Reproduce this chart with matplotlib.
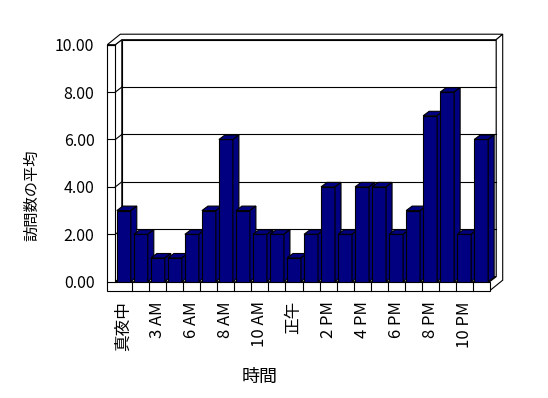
import matplotlib
matplotlib.use('Agg')
import matplotlib.pyplot as plt
from matplotlib.patches import Polygon
import numpy as np

plt.rcParams['font.family'] = ['Noto Sans CJK JP', 'DejaVu Sans']

# ---- data ----
categories = ['真夜中', '1 AM', '3 AM', '5 AM', '6 AM', '7 AM', '8 AM', '9 AM',
              '10 AM', '11 AM', '正午', '1 PM', '2 PM', '3 PM', '4 PM', '5 PM',
              '6 PM', '7 PM', '8 PM', '9 PM', '10 PM', '11 PM']
values = [3, 2, 1, 1, 2, 3, 6, 3, 2, 2, 1, 2, 4, 2, 4, 4, 2, 3, 7, 8, 2, 6]
y_ticks = [0, 2, 4, 6, 8, 10]
y_tick_labels = [f'{v:.2f}' for v in y_ticks]
x_title = '時間'
y_title = '訪問数の平均'

# ---- style ----
BAR_COLOR = '#000080'
LINE = 'black'
LW = 0.8
D1 = (6.5, 5.0)      # depth front plane -> back wall face (px)
D2 = (6.5, 5.5)      # back wall thickness (px)
BD = (6.0, 4.5)      # bar depth (px)
WALL_PX = 8.0        # left wall thickness (px)
FLOOR_PX = 9.0       # floor thickness (px)
W, H = 548, 398

fig = plt.figure(figsize=(W / 100, H / 100), dpi=100)
ax = fig.add_axes([115.3 / W, (H - 281.7) / H, 374.4 / W, 237.0 / H])
n = len(values)
x = np.arange(n)
ax.set_xlim(-0.5, n - 0.5)
ax.set_ylim(0, 10)
for s in ax.spines.values():
    s.set_visible(False)
ax.patch.set_visible(False)


def off(px, py):
    p0 = ax.transData.transform((0, 0))
    q = ax.transData.inverted().transform(p0 + np.array([px, py]))
    return q[0], q[1]


d1 = np.array(off(*D1))
D = np.array(off(D1[0] + D2[0], D1[1] + D2[1]))
bd = np.array(off(*BD))
lw_d, _ = off(WALL_PX, 0)
_, fl_d = off(0, FLOOR_PX)
x0, x1 = -0.5, n - 0.5
ymax = y_ticks[-1]


def poly(pts, z, fc='white'):
    ax.add_patch(Polygon(pts, closed=True, facecolor=fc, edgecolor=LINE,
                         linewidth=LW, zorder=z, clip_on=False,
                         joinstyle='miter'))


P = lambda a, b, d=(0, 0): (a + d[0], b + d[1])

# back wall front face
poly([P(x0, 0, d1), P(x1, 0, d1), P(x1, ymax, d1), P(x0, ymax, d1)], 1)
# left wall inner face
poly([P(x0, 0), P(x0, ymax), P(x0, ymax, d1), P(x0, 0, d1)], 1)
# floor top face
poly([P(x0, 0), P(x1, 0), P(x1, 0, d1), P(x0, 0, d1)], 1)
# top faces of left + back wall
poly([P(x0 - lw_d, ymax), P(x0, ymax), P(x0, ymax, d1), P(x1, ymax, d1),
      P(x1, ymax, D), P(x0 - lw_d, ymax, D)], 1)
# right faces (back wall side + floor side)
poly([P(x1, 0), P(x1, -fl_d), P(x1, -fl_d, D), P(x1, ymax, D),
      P(x1, ymax, d1), P(x1, 0, d1)], 1)
# front L frame: left wall front face + floor front face
poly([P(x0 - lw_d, -fl_d), P(x1, -fl_d), P(x1, 0), P(x0, 0), P(x0, ymax),
      P(x0 - lw_d, ymax)], 1)

# gridlines on back and left walls, tick marks on wall front
for v in y_ticks:
    if 0 < v < ymax:
        ax.plot([x0 + d1[0], x1 + d1[0]], [v + d1[1], v + d1[1]], color=LINE,
                lw=LW, zorder=1.5, clip_on=False)
        ax.plot([x0, x0 + d1[0]], [v, v + d1[1]], color=LINE, lw=LW,
                zorder=1.5, clip_on=False)
    ax.plot([x0 - lw_d, x0], [v, v], color=LINE, lw=LW, zorder=1.5,
            clip_on=False)

# category dividers on floor front face
for k in range(n - 1):
    ax.plot([k + 0.5, k + 0.5], [-fl_d, 0], color=LINE, lw=LW, zorder=1.5,
            clip_on=False)

# bars
bw = 0.82
for i, (xi, v) in enumerate(zip(x, values)):
    z = 3 + i * 0.01
    ax.bar(xi, v, width=bw, color=BAR_COLOR, edgecolor=LINE, linewidth=LW,
           zorder=z)
    l, r = xi - bw / 2, xi + bw / 2
    poly([P(l, v), P(r, v), P(r, v, bd), P(l, v, bd)], z, BAR_COLOR)
    poly([P(r, 0), P(r, v), P(r, v, bd), P(r, 0, bd)], z, BAR_COLOR)

# ticks
ax.set_yticks(y_ticks, y_tick_labels)
ax.tick_params(axis='y', length=0, pad=15, labelsize=11.5)
ax.set_xticks(x[::2], categories[::2], rotation=90)
ax.tick_params(axis='x', length=0, pad=14, labelsize=12)

fig.text(260 / W, 1 - 377 / H, x_title, ha='center', va='center', fontsize=13)
fig.text(32 / W, 1 - 195 / H, y_title, ha='center', va='center', fontsize=11,
         rotation=90)

fig.savefig('out.png', dpi=100)
